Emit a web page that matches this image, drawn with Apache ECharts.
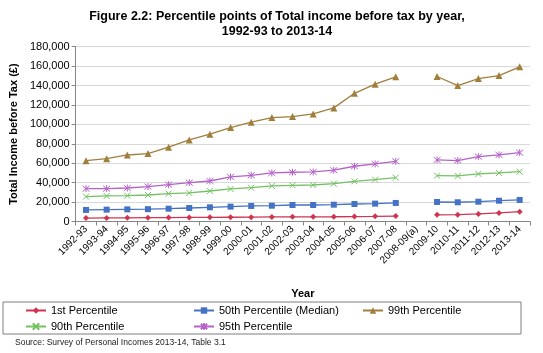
<!DOCTYPE html>
<html><head><meta charset="utf-8">
<script src="https://cdn.jsdelivr.net/npm/echarts@6/dist/echarts.min.js"></script>
<style>html,body{margin:0;padding:0;background:#fff}#c{width:543px;height:353px}</style>
</head><body><div id="c"></div>
<script>
const years = ['1992-93','1993-94','1994-95','1995-96','1996-97','1997-98','1998-99','1999-00','2000-01','2001-02','2002-03','2003-04','2004-05','2005-06','2006-07','2007-08','2008-09(a)','2009-10','2010-11','2011-12','2012-13','2013-14'];
const p1 = [3500,3700,3800,3900,4000,4200,4300,4400,4500,4700,4800,4800,4900,5100,5300,5600,null,6900,7000,7800,8800,10100];
const p50 = [11900,12200,12500,12700,13200,13900,14600,15300,16000,16300,17000,17000,17300,18000,18400,19100,null,20100,19800,20400,21400,22200];
const p99 = [62600,64700,68500,69900,76500,84000,89900,96700,102300,107000,108000,110800,117000,132000,141400,149000,null,149300,140000,147200,150300,159300];
const p90 = [25600,26300,26600,27300,28700,29400,31400,33500,34800,36600,37300,37600,39000,41400,43100,45200,null,47200,46900,49000,50000,51300];
const p95 = [33800,33800,34500,35900,37900,40000,41700,45900,47600,50000,50700,51000,52800,56900,59300,62000,null,63400,62700,66800,68600,70900];
const yTicks = [0,20000,40000,60000,80000,100000,120000,140000,160000,180000];

const chart = echarts.init(document.getElementById('c'));
const FONT = '"Liberation Sans", Arial, sans-serif';
function mk(name, data, color, symbol, size, stroke) {
  return {
    name, type: 'line', data, connectNulls: false,
    symbol, symbolSize: size, showSymbol: true,
    lineStyle: { color, width: 1.3 },
    itemStyle: stroke ? { color: color, borderColor: color, borderWidth: 1 } : { color: color, borderWidth: 0 },
    emphasis: { disabled: true }, animation: false
  };
}
const xPath = 'path://M0,0L10,10M10,0L0,10';
const starPath = 'path://M0,0L10,10M10,0L0,10M5,-1L5,11';
const legTxt = { fontSize: 11, color: '#000', fontFamily: FONT };
const legBase = { top: 305, padding: 0, orient: 'vertical', itemGap: 5, itemWidth: 20, itemHeight: 8, textStyle: legTxt };
chart.setOption({
  animation: false,
  textStyle: { fontFamily: FONT },
  title: {
    text: 'Figure 2.2: Percentile points of Total income before tax by year,\n1992-93 to 2013-14',
    left: 272, textAlign: 'center', top: 4,
    textStyle: { fontFamily: FONT, fontSize: 12.5, fontWeight: 'bold', color: '#000', lineHeight: 15 }
  },
  grid: { left: 66, right: 13, top: 46.7, bottom: 131.5 },
  xAxis: {
    type: 'category', data: years, boundaryGap: true,
    name: 'Year', nameLocation: 'middle', nameGap: 67,
    nameTextStyle: { fontFamily: FONT, fontSize: 11, fontWeight: 'bold', color: '#000' },
    axisLine: { lineStyle: { color: '#868686' } },
    axisTick: { show: true, alignWithLabel: false, length: 4, lineStyle: { color: '#868686' } },
    axisLabel: { rotate: 45, fontSize: 10, color: '#000', fontFamily: FONT, margin: 6, interval: 0 }
  },
  yAxis: {
    type: 'value', min: 0, max: 180000, interval: 20000,
    name: 'Total Income before Tax (£)', nameLocation: 'middle', nameGap: 52,
    nameTextStyle: { fontFamily: FONT, fontSize: 11, fontWeight: 'bold', color: '#000' },
    axisLine: { show: true, lineStyle: { color: '#868686' } },
    axisTick: { show: true, length: 4, lineStyle: { color: '#868686' } },
    splitLine: { lineStyle: { color: '#D9D9D9' } },
    axisLabel: { fontSize: 11, color: '#000', fontFamily: FONT, margin: 6,
      formatter: v => yTicks.includes(v) ? v.toLocaleString('en-GB') : '' }
  },
  legend: [
    Object.assign({ left: 25, data: ['1st Percentile', '90th Percentile'] }, legBase),
    Object.assign({ left: 193, data: ['50th Percentile (Median)', '95th Percentile'] }, legBase),
    Object.assign({ left: 362, data: ['99th Percentile'] }, legBase)
  ],
  graphic: [
    { type: 'rect', shape: { x: 3, y: 302, width: 518, height: 32 }, style: { fill: 'none', stroke: '#7f7f7f', lineWidth: 1 } },
    { type: 'text', left: 15, top: 338, style: { text: 'Source: Survey of Personal Incomes 2013-14, Table 3.1', fontSize: 8.5, fill: '#222', fontFamily: FONT } }
  ],
  series: [
    mk('1st Percentile', p1, '#D0354F', 'diamond', 6, false),
    mk('50th Percentile (Median)', p50, '#4472C4', 'rect', 6, false),
    mk('99th Percentile', p99, '#A07F3C', 'triangle', 7, false),
    mk('90th Percentile', p90, '#72C262', xPath, 6, true),
    mk('95th Percentile', p95, '#B563C9', starPath, 7, true)
  ]
});
</script></body></html>
